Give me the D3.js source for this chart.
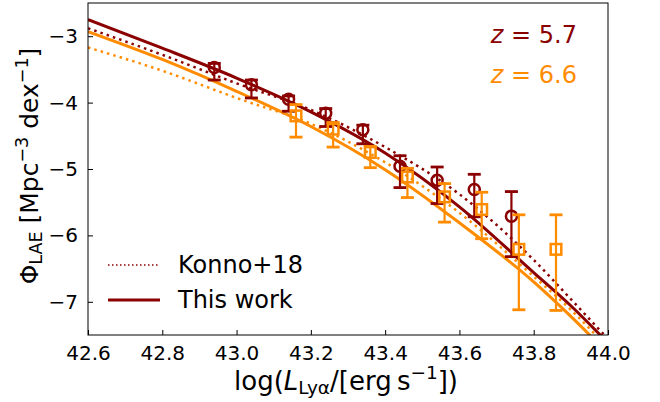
<!DOCTYPE html>
<html><head><meta charset="utf-8">
<script src="https://d3js.org/d3.v7.min.js"></script>
<style>
html,body{margin:0;padding:0;background:#fff;}
text{font-family:"DejaVu Sans",sans-serif;}
</style></head>
<body>
<svg id="chart" width="660" height="402"></svg>
<script>
// ---- data ----
const xTicks = [42.6, 42.8, 43.0, 43.2, 43.4, 43.6, 43.8, 44.0];
const yTicks = [-7, -6, -5, -4, -3];

// z = 5.7 measurements
const lum57 = [42.94, 43.04, 43.14, 43.24, 43.34, 43.44, 43.54, 43.64, 43.74];
const phi57 = [-3.47, -3.73, -3.95, -4.16, -4.41, -4.96, -5.17, -5.31, -5.71];
const errUp57 = [0.06, 0.07, 0.05, 0.07, 0.07, 0.16, 0.20, 0.23, 0.37];
const errLo57 = [0.19, 0.20, 0.18, 0.20, 0.21, 0.32, 0.35, 0.41, 0.61];

// z = 6.6 measurements
const lum66 = [43.16, 43.26, 43.36, 43.46, 43.56, 43.66, 43.76, 43.86];
const phi66 = [-4.20, -4.40, -4.75, -5.12, -5.42, -5.61, -6.21, -6.21];
const errUp66 = [0.17, 0.10, 0.09, 0.13, 0.20, 0.26, 0.52, 0.52];
const errLo66 = [0.32, 0.27, 0.23, 0.31, 0.38, 0.44, 0.91, 0.92];

// fitted curves
const curveLum   = [42.6, 42.8, 43.0, 43.2, 43.4, 43.6, 43.8, 43.9, 44.0];
const thisWork57 = [-2.75, -3.18, -3.63, -4.14, -4.76, -5.57, -6.56, -7.06, -7.62];
const konno57    = [-2.88, -3.28, -3.71, -4.11, -4.67, -5.38, -6.37, -6.96, -7.56];
const thisWork66 = [-2.93, -3.35, -3.83, -4.36, -5.01, -5.81, -6.70, -7.22, -7.78];
const konno66    = [-3.17, -3.52, -3.93, -4.32, -4.90, -5.66, -6.62, -7.12, -7.70];

const RED = "#8b0000", ORANGE = "#ff8c00";

const svg = d3.select("#chart");
const x = d3.scaleLinear().domain([42.6, 44.0]).range([88, 608]);
const y = d3.scaleLinear().domain([-7.5, -2.5]).range([335, 3]);

svg.append("defs").append("clipPath").attr("id","clip")
  .append("rect").attr("x",88).attr("y",3).attr("width",520).attr("height",332);

const plot = svg.append("g").attr("clip-path","url(#clip)");
const line = d3.line().x(d=>x(d[0])).y(d=>y(d[1])).curve(d3.curveMonotoneX);

function drawCurve(vals, color, dotted){
  const p = plot.append("path")
    .attr("d", line(curveLum.map((l,i)=>[l, vals[i]])))
    .attr("fill","none").attr("stroke",color);
  if(dotted) p.attr("stroke-width",2.5).attr("stroke-dasharray","2.5,4.1");
  else p.attr("stroke-width",3).attr("stroke-linecap","butt");
}
drawCurve(konno57, RED, true);
drawCurve(konno66, ORANGE, true);
drawCurve(thisWork57, RED, false);
drawCurve(thisWork66, ORANGE, false);

function drawErr(lums, phis, up, lo, color, shape){
  const g = plot.append("g").attr("stroke",color).attr("fill","none");
  lums.forEach((l,i)=>{
    const cx = x(l), cy = y(phis[i]);
    const yt = y(phis[i]+up[i]), yb = y(phis[i]-lo[i]);
    g.append("line").attr("x1",cx).attr("x2",cx).attr("y1",yt).attr("y2",yb).attr("stroke-width",2.2);
    [yt,yb].forEach(yy=>g.append("line").attr("x1",cx-6.5).attr("x2",cx+6.5)
      .attr("y1",yy).attr("y2",yy).attr("stroke-width",2.8));
    if(shape==="circle") g.append("circle").attr("cx",cx).attr("cy",cy).attr("r",5.5).attr("stroke-width",2.5);
    else g.append("rect").attr("x",cx-5.3).attr("y",cy-5.3).attr("width",10.6).attr("height",10.6).attr("stroke-width",2.5);
  });
}
drawErr(lum57, phi57, errUp57, errLo57, RED, "circle");
drawErr(lum66, phi66, errUp66, errLo66, ORANGE, "square");

// frame
svg.append("rect").attr("x",88).attr("y",3).attr("width",520).attr("height",332)
  .attr("fill","none").attr("stroke","#000").attr("stroke-width",1);

// axes with inward ticks
const xAxis = svg.append("g").attr("transform","translate(0,335)")
  .call(d3.axisBottom(x).tickValues(xTicks).tickFormat(d3.format(".1f")).tickSizeInner(-5).tickSizeOuter(0).tickPadding(11));
const yAxis = svg.append("g").attr("transform","translate(88,0)")
  .call(d3.axisLeft(y).tickValues(yTicks).tickFormat(d=>"\u2212"+Math.abs(d)).tickSizeInner(-5).tickSizeOuter(0).tickPadding(10));
[xAxis,yAxis].forEach(a=>{
  a.select(".domain").remove();
  a.selectAll("text").attr("font-size",20).attr("fill","#000").attr("font-family","DejaVu Sans");
  a.selectAll("line").attr("stroke","#000");
});

// x label
const xl = svg.append("text").attr("x",346).attr("y",390).attr("text-anchor","middle").attr("font-size",26).attr("fill","#000");
xl.append("tspan").text("log(");
xl.append("tspan").attr("font-style","italic").text("L");
xl.append("tspan").attr("font-size",18.5).attr("dy",4).text("Ly\u03b1");
xl.append("tspan").attr("dy",-4).text("/[erg\u2009s");
xl.append("tspan").attr("font-size",18.5).attr("dy",-11).text("\u22121");
xl.append("tspan").attr("dy",11).text("])");

// y label
const yl = svg.append("text").attr("transform","translate(38,166) rotate(-90)")
  .attr("text-anchor","middle").attr("font-size",25).attr("fill","#000");
yl.append("tspan").text("\u03a6");
yl.append("tspan").attr("font-size",17.5).attr("dy",4).text("LAE");
yl.append("tspan").attr("dy",-4).text(" [Mpc");
yl.append("tspan").attr("font-size",17.5).attr("dy",-10).text("\u22123");
yl.append("tspan").attr("dy",10).text(" dex");
yl.append("tspan").attr("font-size",17.5).attr("dy",-10).text("\u22121");
yl.append("tspan").attr("dy",10).text("]");

// redshift annotations
[[ "5.7", RED, 43], ["6.6", ORANGE, 82.5]].forEach(([v,c,yy])=>{
  const t = svg.append("text").attr("x",577).attr("y",yy).attr("text-anchor","end").attr("font-size",24).attr("fill",c);
  t.append("tspan").attr("font-style","italic").text("z");
  t.append("tspan").text(" = "+v);
});

// legend
const leg = svg.append("g");
leg.append("line").attr("x1",108).attr("x2",160).attr("y1",265).attr("y2",265)
  .attr("stroke",RED).attr("stroke-width",1.5).attr("stroke-dasharray","1.5,2.5");
leg.append("text").attr("x",178).attr("y",273).attr("font-size",24).attr("fill","#000").text("Konno+18");
leg.append("line").attr("x1",108).attr("x2",160).attr("y1",300).attr("y2",300)
  .attr("stroke",RED).attr("stroke-width",3);
leg.append("text").attr("x",178).attr("y",308).attr("font-size",24).attr("fill","#000").text("This work");
</script>
</body></html>
